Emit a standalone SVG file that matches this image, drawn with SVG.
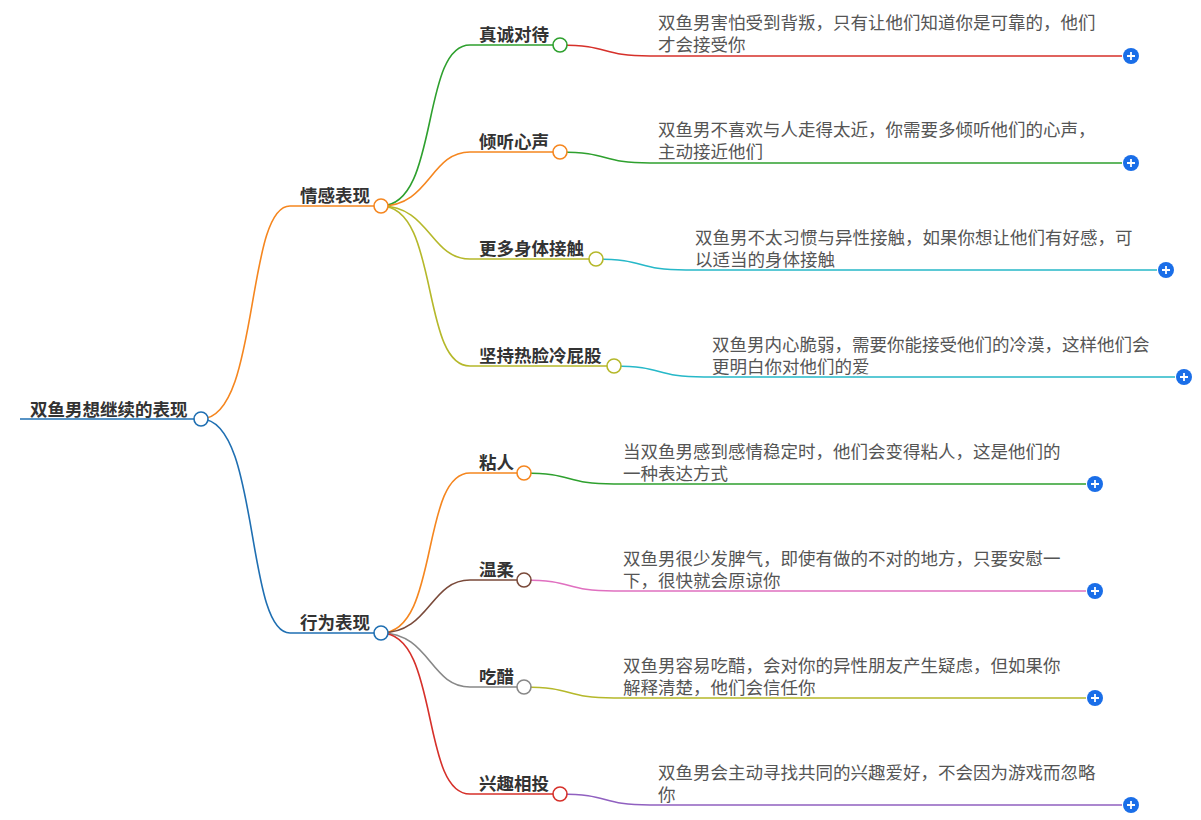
<svg xmlns="http://www.w3.org/2000/svg" width="1201" height="820" viewBox="0 0 1201 820">
<style>
text{font-family:"Noto Sans CJK SC","Liberation Sans",sans-serif}
.t{font-size:17.5px;font-weight:bold;fill:#333}
.l{font-size:17.5px;fill:#555}
path{fill:none;stroke-width:1.6}
.n{fill:#fff;stroke-width:1.6}
.p{fill:#1a6ee8}
.pl{stroke:#fff;stroke-width:1.8}
</style>
<rect width="1201" height="820" fill="#fff"/>
<g id="connectors">
<path d="M20,419H201" stroke="#1f6fb2" stroke-width="4"/>
<path d="M201,419C260,419 245,206 290,206H381" stroke="#f5861f"/>
<path d="M201,419C260,419 245,633 290,633H381" stroke="#1f6fb2"/>
<path d="M381,206C440,206 420,45 470,45H560" stroke="#2ea02e"/>
<path d="M381,206C430,206 430,152 470,152H560" stroke="#f5861f"/>
<path d="M381,206C430,206 430,259 470,259H596" stroke="#b5b82a"/>
<path d="M381,206C440,206 420,366 470,366H614" stroke="#b5b82a"/>
<path d="M381,633C440,633 420,473 470,473H524" stroke="#f5861f"/>
<path d="M381,633C430,633 430,580 470,580H524" stroke="#7a4a3a"/>
<path d="M381,633C430,633 430,687 470,687H524" stroke="#888"/>
<path d="M381,633C440,633 420,794 470,794H560" stroke="#d6302a"/>
<path d="M560,45C610,45 600,56 650,56H1122" stroke="#d6302a"/>
<path d="M560,152C610,152 600,163 650,163H1122" stroke="#2ea02e"/>
<path d="M596,259C646,259 636,270 686,270H1157" stroke="#26b8c8"/>
<path d="M614,366C664,366 654,377 704,377H1175" stroke="#26b8c8"/>
<path d="M524,473C574,473 564,484 614,484H1086" stroke="#2ea02e"/>
<path d="M524,580C574,580 564,591 614,591H1086" stroke="#e070c0"/>
<path d="M524,687C574,687 564,698 614,698H1086" stroke="#b5b82a"/>
<path d="M560,794C610,794 600,805 650,805H1122" stroke="#9060c0"/>
</g>
<g id="root"><text class="t" x="30" y="416">双鱼男想继续的表现</text><circle class="n" cx="201" cy="419" r="7" stroke="#1f6fb2"/></g>
<g id="b1"><text class="t" x="300" y="202">情感表现</text><circle class="n" cx="381" cy="206" r="7" stroke="#f5861f"/></g>
<g id="b2"><text class="t" x="300" y="629">行为表现</text><circle class="n" cx="381" cy="633" r="7" stroke="#1f6fb2"/></g>
<g id="c1"><text class="t" x="479" y="41">真诚对待</text><circle class="n" cx="560" cy="45" r="7" stroke="#2ea02e"/></g>
<g id="c2"><text class="t" x="479" y="148">倾听心声</text><circle class="n" cx="560" cy="152" r="7" stroke="#f5861f"/></g>
<g id="c3"><text class="t" x="479" y="255">更多身体接触</text><circle class="n" cx="596" cy="259" r="7" stroke="#b5b82a"/></g>
<g id="c4"><text class="t" x="479" y="362">坚持热脸冷屁股</text><circle class="n" cx="614" cy="366" r="7" stroke="#b5b82a"/></g>
<g id="c5"><text class="t" x="479" y="469">粘人</text><circle class="n" cx="524" cy="473" r="7" stroke="#f5861f"/></g>
<g id="c6"><text class="t" x="479" y="576">温柔</text><circle class="n" cx="524" cy="580" r="7" stroke="#7a4a3a"/></g>
<g id="c7"><text class="t" x="479" y="683">吃醋</text><circle class="n" cx="524" cy="687" r="7" stroke="#888"/></g>
<g id="c8"><text class="t" x="479" y="790">兴趣相投</text><circle class="n" cx="560" cy="794" r="7" stroke="#d6302a"/></g>
<g id="l1"><text class="l" x="658" y="29">双鱼男害怕受到背叛，只有让他们知道你是可靠的，他们</text><text class="l" x="658" y="51">才会接受你</text><circle class="p" cx="1131" cy="56" r="8"/><path class="pl" d="M1127,56h8M1131,52v8"/></g>
<g id="l2"><text class="l" x="658" y="136">双鱼男不喜欢与人走得太近，你需要多倾听他们的心声，</text><text class="l" x="658" y="158">主动接近他们</text><circle class="p" cx="1131" cy="163" r="8"/><path class="pl" d="M1127,163h8M1131,159v8"/></g>
<g id="l3"><text class="l" x="695" y="244">双鱼男不太习惯与异性接触，如果你想让他们有好感，可</text><text class="l" x="695" y="266">以适当的身体接触</text><circle class="p" cx="1166" cy="270" r="8"/><path class="pl" d="M1162,270h8M1166,266v8"/></g>
<g id="l4"><text class="l" x="712" y="351">双鱼男内心脆弱，需要你能接受他们的冷漠，这样他们会</text><text class="l" x="712" y="373">更明白你对他们的爱</text><circle class="p" cx="1184" cy="377" r="8"/><path class="pl" d="M1180,377h8M1184,373v8"/></g>
<g id="l5"><text class="l" x="623" y="458">当双鱼男感到感情稳定时，他们会变得粘人，这是他们的</text><text class="l" x="623" y="480">一种表达方式</text><circle class="p" cx="1095" cy="484" r="8"/><path class="pl" d="M1091,484h8M1095,480v8"/></g>
<g id="l6"><text class="l" x="623" y="565">双鱼男很少发脾气，即使有做的不对的地方，只要安慰一</text><text class="l" x="623" y="587">下，很快就会原谅你</text><circle class="p" cx="1095" cy="591" r="8"/><path class="pl" d="M1091,591h8M1095,587v8"/></g>
<g id="l7"><text class="l" x="623" y="672">双鱼男容易吃醋，会对你的异性朋友产生疑虑，但如果你</text><text class="l" x="623" y="694">解释清楚，他们会信任你</text><circle class="p" cx="1095" cy="698" r="8"/><path class="pl" d="M1091,698h8M1095,694v8"/></g>
<g id="l8"><text class="l" x="658" y="779">双鱼男会主动寻找共同的兴趣爱好，不会因为游戏而忽略</text><text class="l" x="658" y="801">你</text><circle class="p" cx="1131" cy="805" r="8"/><path class="pl" d="M1127,805h8M1131,801v8"/></g>
</svg>
